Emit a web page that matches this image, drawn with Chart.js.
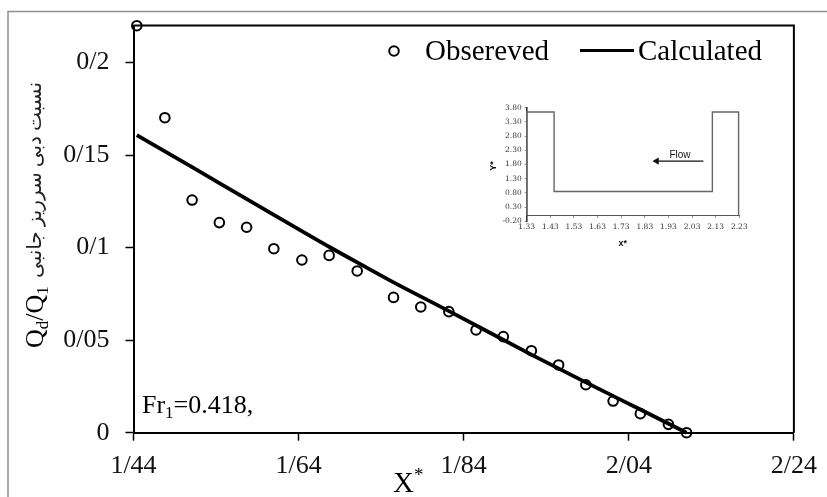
<!DOCTYPE html>
<html>
<head>
<meta charset="utf-8">
<script src="https://cdn.jsdelivr.net/npm/chart.js@4"></script>
<style>
html,body{margin:0;padding:0;background:#fff;overflow:hidden}
#main{position:absolute;left:0;top:0}
#inset{position:absolute;left:480px;top:95px;filter:blur(0.45px)}
</style>
</head>
<body>
<canvas id="main" width="827" height="497"></canvas>
<canvas id="inset" width="290" height="160"></canvas>
<script>
const obsX = [1.444,1.478,1.511,1.544,1.577,1.610,1.644,1.677,1.711,1.755,1.788,1.822,1.855,1.888,1.922,1.955,1.988,2.021,2.054,2.088,2.110];
const obsY = [0.2199,0.1702,0.1257,0.1135,0.111,0.0994,0.0933,0.0958,0.0874,0.0731,0.0679,0.0654,0.0555,0.0519,0.0443,0.0366,0.0259,0.0171,0.0103,0.0045,0];
const calcX = [1.444,1.510,1.545,1.609,1.678,1.724,1.7505,1.8216,1.9237,1.988,2.054,2.110];
const calcY = [0.1608,0.1437,0.1346,0.1180,0.1002,0.0888,0.0823,0.0658,0.0418,0.0272,0.0125,0];
const xTicks = [1.44,1.64,1.84,2.04,2.24];
const xTickLabels = ['1/44','1/64','1/84','2/04','2/24'];
const yTicks = [0,0.05,0.1,0.15,0.2];
const yTickLabels = ['0','0/05','0/1','0/15','0/2'];
const seriesNames = ['Obsereved','Calculated'];
const yTitleFa = 'نسبت دبی سرریز جانبی';

const insetX = [1.33,1.33,1.446,1.446,2.116,2.116,2.227,2.227];
const insetY = [0,3.65,3.65,0.85,0.85,3.65,3.65,0];
const arrowX = [2.078,1.88];
const arrowY = [1.92,1.92];
const insetXTicks = [1.33,1.43,1.53,1.63,1.73,1.83,1.93,2.03,2.13,2.23];
const insetYTicks = [-0.2,0.3,0.8,1.3,1.8,2.3,2.8,3.3,3.8];

const SERIF = '"Liberation Serif","Times New Roman",serif';
const pairs = (a,b)=>a.map((v,i)=>({x:v,y:b[i]}));

function rotatedRuns(ctx,x,y,runs){
  ctx.save();
  ctx.translate(x,y);
  ctx.rotate(-Math.PI/2);
  ctx.textAlign='left';ctx.textBaseline='alphabetic';
  let p=0;
  runs.forEach(r=>{ctx.font=r.size+'px '+SERIF;ctx.fillText(r.t,p,r.dy||0);p+=ctx.measureText(r.t).width;});
  ctx.restore();
}
function runs(ctx,x,y,list){
  ctx.textAlign='left';ctx.textBaseline='alphabetic';
  let p=x;
  list.forEach(r=>{ctx.font=r.size+'px '+SERIF;ctx.fillText(r.t,p,y+(r.dy||0));p+=ctx.measureText(r.t).width;});
}

const frame = {
  id:'frame',
  beforeDraw(c){
    const x=c.ctx;x.save();
    x.strokeStyle='#8f8f8f';x.lineWidth=1.5;
    x.beginPath();x.moveTo(8,497);x.lineTo(8,11.5);x.lineTo(827,11.5);x.stroke();
    x.restore();
  },
  afterDatasetsDraw(c){
    const x=c.ctx,a=c.chartArea;x.save();
    x.strokeStyle='#000';x.lineWidth=2;
    x.beginPath();x.moveTo(a.left,a.top);x.lineTo(a.right,a.top);x.lineTo(a.right,a.bottom);x.stroke();
    x.fillStyle='#000';
    // legend
    x.font='29px '+SERIF;x.textAlign='left';x.textBaseline='alphabetic';
    x.lineWidth=2;x.beginPath();x.arc(394,51,4.8,0,Math.PI*2);x.stroke();
    x.fillText(seriesNames[0],425,60);
    x.lineWidth=3;x.beginPath();x.moveTo(580,50.5);x.lineTo(634,50.5);x.stroke();
    x.fillText(seriesNames[1],638,60);
    // annotation
    runs(x,142,413,[{t:'Fr',size:26},{t:'1',size:17,dy:5},{t:'=0.418,',size:26}]);
    // x title
    runs(x,393,492,[{t:'X',size:29},{t:'*',size:19,dy:-11}]);
    // y titles
    rotatedRuns(x,43,348,[{t:'Q',size:26},{t:'d',size:17,dy:5},{t:'/Q',size:26},{t:'1',size:17,dy:5}]);
    x.save();
    x.translate(41,180);x.rotate(-Math.PI/2);
    x.font='20px '+SERIF+',"DejaVu Sans"';x.textAlign='center';x.direction='rtl';
    x.fillStyle='#222';
    x.fillText(yTitleFa,0,0);
    x.restore();
    x.restore();
  }
};

new Chart(document.getElementById('main'),{
  type:'scatter',
  data:{datasets:[
    {label:seriesNames[1],type:'line',data:pairs(calcX,calcY),borderColor:'#000',borderWidth:3.8,pointRadius:0,cubicInterpolationMode:'monotone',clip:false,order:1},
    {label:seriesNames[0],data:pairs(obsX,obsY),borderColor:'#000',backgroundColor:'rgba(0,0,0,0)',borderWidth:2,pointRadius:4.8,clip:false,order:0}
  ]},
  options:{
    responsive:false,animation:false,devicePixelRatio:1,
    layout:{padding:{top:25.5,right:32.5,left:0,bottom:0}},
    plugins:{legend:{display:false},tooltip:{enabled:false}},
    scales:{
      x:{type:'linear',min:1.44,max:2.24,
        afterBuildTicks(s){s.ticks=xTicks.map(v=>({value:v}));},
        afterFit(s){s.height=64.3;},
        grid:{drawOnChartArea:false,drawTicks:true,tickLength:8,tickColor:'#000',tickWidth:1.5},
        border:{display:true,color:'#000',width:2},
        ticks:{color:'#111',font:{family:SERIF,size:26},padding:10,maxRotation:0,autoSkip:false,
          callback:(v)=>xTickLabels[xTicks.findIndex(t=>Math.abs(t-v)<1e-6)]}
      },
      y:{type:'linear',min:0,max:0.22,
        afterBuildTicks(s){s.ticks=yTicks.map(v=>({value:v}));},
        afterFit(s){s.width=133.5;},
        grid:{drawOnChartArea:false,drawTicks:true,tickLength:8,tickColor:'#000',tickWidth:1.5},
        border:{display:true,color:'#000',width:2},
        ticks:{color:'#111',font:{family:SERIF,size:26,lineHeight:0.3},padding:16,autoSkip:false,
          callback:(v)=>yTickLabels[yTicks.findIndex(t=>Math.abs(t-v)<1e-6)]}
      }
    }
  },
  plugins:[frame]
});

const insetText = {
  id:'insetText',
  afterDraw(c){
    const x=c.ctx;x.save();x.fillStyle='#111';
    x.textAlign='center';x.textBaseline='middle';
    x.font='10px "Liberation Sans",sans-serif';
    x.fillText('Flow',200,60);
    x.font='bold 9px "Liberation Sans",sans-serif';
    x.fillText('x*',142.7,149);
    x.save();x.translate(14,71);x.rotate(-Math.PI/2);x.fillText('Y*',0,0);x.restore();
    x.restore();
  }
};
new Chart(document.getElementById('inset'),{
  type:'scatter',
  data:{datasets:[
    {type:'line',data:pairs(insetX,insetY),borderColor:'#666',borderWidth:1.4,pointRadius:0,tension:0,clip:false},
    {type:'line',data:pairs(arrowX,arrowY),borderColor:'#111',backgroundColor:'#111',borderWidth:1.4,tension:0,
      pointRadius:[0,2.8],pointStyle:'triangle',pointRotation:-90,clip:false}
  ]},
  options:{
    responsive:false,animation:false,devicePixelRatio:1,
    layout:{padding:{top:12.7,right:30.7,left:0,bottom:33.7}},
    plugins:{legend:{display:false},tooltip:{enabled:false}},
    scales:{
      x:{type:'linear',min:1.33,max:2.23,position:{y:0},
        afterBuildTicks(s){s.ticks=insetXTicks.map(v=>({value:v}));},
        grid:{drawOnChartArea:false,drawTicks:true,tickLength:2,tickColor:'#777',tickWidth:0.8},
        border:{display:true,color:'#555',width:1},
        ticks:{color:'#333',font:{family:'"DejaVu Serif",serif',size:7.5},padding:5,maxRotation:0,autoSkip:false,
          callback:(v)=>Number(v).toFixed(2)}
      },
      y:{type:'linear',min:-0.2,max:3.8,
        afterBuildTicks(s){s.ticks=insetYTicks.map(v=>({value:v}));},
        afterFit(s){s.width=46.7;},
        grid:{drawOnChartArea:false,drawTicks:true,tickLength:2,tickColor:'#777',tickWidth:0.8},
        border:{display:true,color:'#333',width:1.6},
        ticks:{color:'#333',font:{family:'"DejaVu Serif",serif',size:7.5},padding:3,autoSkip:false,
          callback:(v)=>Number(v).toFixed(2)}
      }
    }
  },
  plugins:[insetText]
});
</script>
</body>
</html>
